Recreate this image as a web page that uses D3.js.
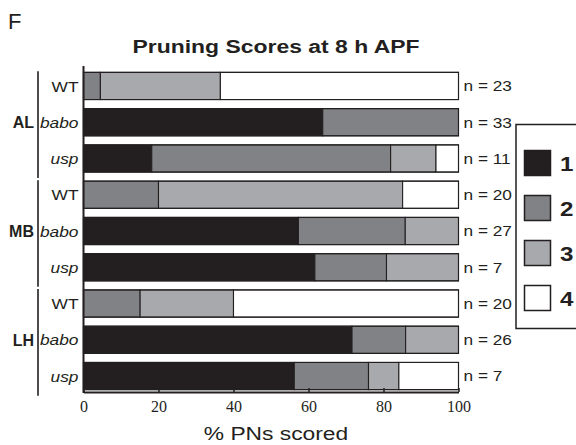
<!DOCTYPE html>
<html><head><meta charset="utf-8">
<script src="https://cdn.jsdelivr.net/npm/d3@7"></script>
<style>body{margin:0;background:#fff}svg{display:block}</style>
</head><body>
<svg id="c" width="576" height="445"></svg>
<script>
const groups = ["AL","MB","LH"];
const genotypes = ["WT","babo","usp"];
const rowIds = ["AL-WT","AL-babo","AL-usp","MB-WT","MB-babo","MB-usp","LH-WT","LH-babo","LH-usp"];
const score1 = [0, 63.8, 18.2, 0, 57.3, 61.7, 0, 71.6, 56.2];
const score2 = [4.5, 36.2, 63.7, 20, 28.5, 19.1, 15.1, 14.3, 19.8];
const score3 = [32, 0, 12.1, 65.1, 14.2, 19.2, 24.9, 14.1, 8.1];
const score4 = [63.5, 0, 6, 14.9, 0, 0, 60, 0, 15.9];
const nLabels = ["n = 23","n = 33","n = 11","n = 20","n = 27","n = 7","n = 20","n = 26","n = 7"];
const scoreKeys = ["1","2","3","4"];
const colors = ["#231f20","#808285","#a7a9ac","#ffffff"];
const xTicks = [0,20,40,60,80,100];

const SANS = "Liberation Sans, Arial, sans-serif";
const INK = "#231f20";
const svg = d3.select("#c");
const x = d3.scaleLinear().domain([0,100]).range([83.5,458.5]);
const y = d3.scaleBand().domain(rowIds).range([68,394]).paddingInner(0.25).paddingOuter(0.12);
const color = d3.scaleOrdinal().domain(scoreKeys).range(colors);

function txt(px, py, str, o={}) {
  const sx = o.sx || 1;
  return svg.append("text")
    .attr("transform", `translate(${px},${py}) scale(${sx},1)`)
    .attr("text-anchor", o.anchor || "start")
    .attr("dy", o.dy || null)
    .attr("font-family", o.family || SANS)
    .attr("font-size", o.size || 14)
    .attr("font-weight", o.weight || "normal")
    .attr("font-style", o.style || "normal")
    .attr("fill", INK).text(str);
}

const table = rowIds.map((id,i)=>({id, "1":score1[i], "2":score2[i], "3":score3[i], "4":score4[i]}));
const stack = d3.stack().keys(scoreKeys)(table);

txt(8, 29, "F", {size:22});
txt(276, 53, "Pruning Scores at 8 h APF", {anchor:"middle", weight:"bold", size:18.5, sx:1.24});

const layers = svg.append("g").selectAll("g").data(stack).join("g")
  .attr("fill",d=>color(d.key));
layers.selectAll("rect").data(d=>d.filter(s=>s[1]-s[0]>0)).join("rect")
  .attr("x",d=>x(d[0])).attr("width",d=>x(d[1])-x(d[0]))
  .attr("y",d=>y(d.data.id)).attr("height",y.bandwidth())
  .attr("stroke",INK).attr("stroke-width",1.1);

svg.append("g").selectAll("rect").data(rowIds).join("rect")
  .attr("x",x(0)).attr("width",x(100)-x(0)).attr("y",d=>y(d)).attr("height",y.bandwidth())
  .attr("fill","none").attr("stroke",INK).attr("stroke-width",1.1);

// x axis
const axisY = 392;
const xa = svg.append("g").attr("transform",`translate(0,${axisY})`)
  .call(d3.axisBottom(x).tickValues(xTicks).tickSize(-4).tickSizeOuter(0).tickPadding(8));
xa.select(".domain").attr("stroke",INK).attr("stroke-width",2);
xa.selectAll(".tick line").attr("stroke",INK).attr("stroke-width",1.5);
xa.selectAll(".tick text").attr("font-family","Liberation Serif, Times New Roman, serif")
  .attr("font-size",16).attr("fill",INK).attr("dy","0.78em");
svg.append("line").attr("x1",x(0)).attr("x2",x(0)).attr("y1",66).attr("y2",axisY+1)
  .attr("stroke",INK).attr("stroke-width",2);

txt(276, 440, "% PNs scored", {anchor:"middle", size:19, sx:1.2});

// row labels
rowIds.forEach(id=>{
  const t = id.split("-")[1];
  txt(78.5, y(id)+y.bandwidth()/2, t, {anchor:"end", dy:"0.36em", size:15.5, sx:1.12,
      style: t==="WT" ? "normal" : "italic"});
});

// n labels
rowIds.forEach((id,i)=>{
  txt(463.5, y(id)+y.bandwidth()/2, nLabels[i], {dy:"0.36em", size:15, sx:1.15});
});

// group labels & brackets
groups.forEach(g=>{
  const ids = genotypes.map(t=>g+"-"+t);
  const top = y(ids[0]) - 1, bot = y(ids[2]) + y.bandwidth() + 6;
  svg.append("line").attr("x1",38).attr("x2",38).attr("y1",top).attr("y2",bot)
    .attr("stroke",INK).attr("stroke-width",1.6);
  txt(34, y(ids[1])+y.bandwidth()/2, g, {anchor:"end", dy:"0.36em", weight:"bold", size:16});
});

// legend
const lg = svg.append("g");
lg.append("rect").attr("x",516).attr("y",124.5).attr("width",80).attr("height",204)
  .attr("fill","#fff").attr("stroke",INK).attr("stroke-width",1.5);
const ly = d3.scalePoint().domain(scoreKeys).range([163,298]);
lg.selectAll("rect.sw").data(scoreKeys).join("rect").attr("class","sw")
  .attr("x",524.5).attr("y",d=>ly(d)-12.5).attr("width",26).attr("height",25)
  .attr("fill",d=>color(d)).attr("stroke",INK).attr("stroke-width",1.5);
scoreKeys.forEach(k=>{
  txt(560, ly(k), k, {dy:"0.36em", weight:"bold", size:21, sx:1.15});
});
</script>
</body></html>
